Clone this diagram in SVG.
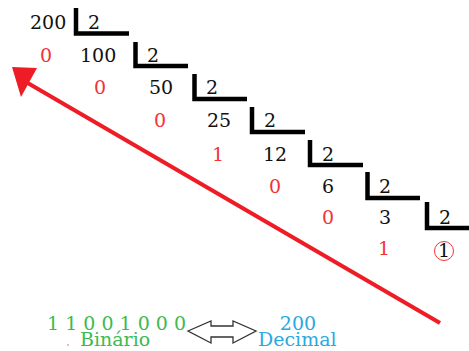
<svg xmlns="http://www.w3.org/2000/svg" width="469" height="351" viewBox="0 0 469 351">
<style>
text{font-family:"DejaVu Serif",serif;font-size:19px}
.k{fill:#111}
.r{fill:#f0343a}
.g{fill:#3dba4e}
.b{fill:#29a9e1}
.br{fill:none;stroke:#000;stroke-width:4.5}
</style>
<rect width="469" height="351" fill="#fff"/>
<g id="divisions">
<text class="k" x="30" y="29">200</text>
<text class="k" x="80" y="62">100</text>
<text class="k" x="149" y="94">50</text>
<text class="k" x="207" y="127">25</text>
<text class="k" x="263" y="161">12</text>
<text class="k" x="322" y="193">6</text>
<text class="k" x="379" y="224">3</text>
</g>
<g id="divisors">
<path class="br" d="M76,8V33.5H129"/><text class="k" x="88" y="29">2</text>
<path class="br" d="M135.5,42V66H188"/><text class="k" x="147" y="62">2</text>
<path class="br" d="M194.5,74V99H247"/><text class="k" x="206" y="94">2</text>
<path class="br" d="M252,107V132H305"/><text class="k" x="264" y="127">2</text>
<path class="br" d="M310,140V165H363"/><text class="k" x="322" y="161">2</text>
<path class="br" d="M367.5,172V198H420"/><text class="k" x="379" y="193">2</text>
<path class="br" d="M427,202V228H470"/><text class="k" x="439" y="224">2</text>
</g>
<g id="remainders">
<text class="r" x="46" y="62" text-anchor="middle">0</text>
<text class="r" x="100" y="94" text-anchor="middle">0</text>
<text class="r" x="160" y="127" text-anchor="middle">0</text>
<text class="r" x="218" y="161" text-anchor="middle">1</text>
<text class="r" x="275" y="193" text-anchor="middle">0</text>
<text class="r" x="328" y="224" text-anchor="middle">0</text>
<text class="r" x="384" y="255" text-anchor="middle">1</text>
<circle cx="444" cy="251" r="9.5" fill="none" stroke="#f0343a" stroke-width="1"/>
<text class="k" x="444" y="257" text-anchor="middle">1</text>
</g>
<g id="connectors">
<line x1="440" y1="323" x2="26" y2="82" stroke="#ee1c25" stroke-width="4"/>
<polygon points="12,67 37,68 21,97" fill="#ee1c25"/>
<path d="M188,331 L211,321 V326 H233 V321 L256,331 L233,343 V337 H211 V343 Z" fill="#fff" stroke="#333" stroke-width="1.3" stroke-linejoin="miter"/>
</g>
<g id="labels">
<text class="g" x="47" y="330">1 1 0 0 1 0 0 0</text>
<text class="g" x="80" y="346">Binário</text>
<circle cx="68" cy="345" r="0.7" fill="#f0343a"/>
<text class="b" x="298" y="330" text-anchor="middle">200</text>
<text class="b" x="258" y="346">Decimal</text>
</g>
</svg>
